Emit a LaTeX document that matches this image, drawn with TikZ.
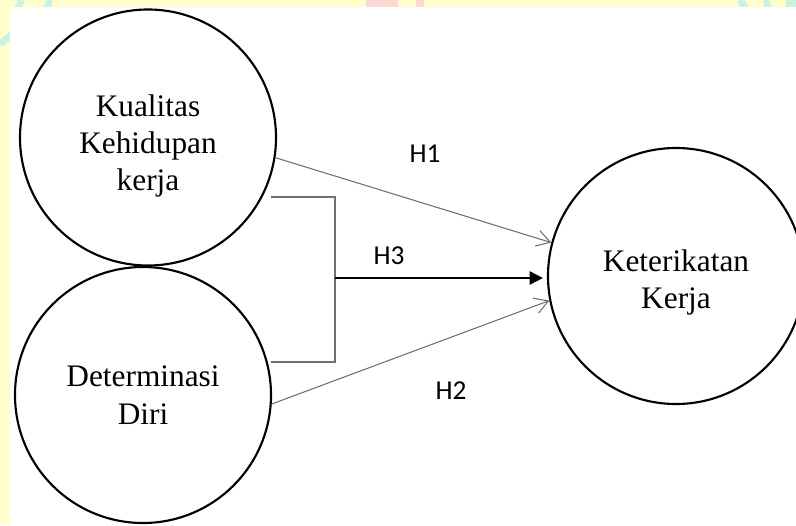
\documentclass[tikz,border=0pt]{standalone}
\usepackage{fontspec}
\setmainfont{Liberation Serif}
\newfontfamily\labelfont{Carlito}
\usetikzlibrary{arrows.meta}
\definecolor{stripyellow}{HTML}{FFFFCC}
\definecolor{markcyan}{HTML}{C8F4DF}
\definecolor{markpink}{HTML}{FFD6D6}
\definecolor{linegray}{HTML}{707070}
\begin{document}
\begin{tikzpicture}[x=0.75pt,y=-0.75pt,
  variabel/.style={circle,draw,line width=1.6pt,minimum size=192pt,inner sep=0pt,
    align=center,font=\fontsize{23.5}{28}\selectfont},
  hlabel/.style={font=\labelfont\fontsize{20.5}{24}\selectfont},
  tipis/.style={draw=linegray,line width=0.8pt},
  barb/.style={tipis,-{Straight Barb[length=10pt,width=12pt]}},
  tebal/.style={line width=1.3pt,-{Triangle[length=10pt,width=10pt]}}]

\useasboundingbox (0,0) rectangle (796,525);

% background strip
\fill[stripyellow] (0,0) rectangle (796,525);
\draw[markcyan,line width=5pt] (0,44) -- (30,20);
\draw[markcyan,line width=5pt] (22,0) -- (17,9);
\draw[markcyan,line width=5pt] (50,0) -- (46,9);
\fill[markpink] (366,0) rectangle (398,8);
\fill[markpink] (416,0) rectangle (424,8);
\draw[markcyan,line width=5pt] (740,0) -- (746,9);
\draw[markcyan,line width=5pt] (766,0) -- (768,9);
\fill[markcyan] (786,0) rectangle (796,8);
\fill[white] (10,7) rectangle (796,525);

\node[variabel] (kq) at (148,137.5) {\rule{0pt}{29pt}Kualitas\\Kehidupan\\kerja};
\node[variabel] (dd) at (143,395) {Determinasi\\Diri};
\node[variabel] (kk) at (676,276) {\rule{0pt}{26pt}Keterikatan\\Kerja};

\node[hlabel] (h1) at (425,154) {H1};
\node[hlabel] (h3) at (389,256) {H3};
\node[hlabel] (h2) at (451,391) {H2};

\draw[barb] (kq.-9) -- (kk.165);
\draw[barb] (dd.-4) -- (kk.191);

\coordinate (brtop) at (271,197);
\coordinate (brbot) at (271,362);
\coordinate (brmid) at (335,278);
\draw[tipis] (brtop) -| (brmid |- brbot) -- (brbot);
\draw[tebal] (brmid) -- ([xshift=-3pt]brmid -| kk.west);

\end{tikzpicture}
\end{document}
